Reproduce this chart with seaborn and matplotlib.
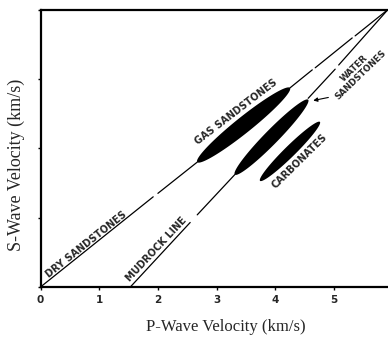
import numpy as np
import pandas as pd
import matplotlib
matplotlib.use("Agg")
import matplotlib.pyplot as plt
import seaborn as sns

# ---------------- data ----------------
vp_ticks = [0, 1, 2, 3, 4, 5]
vs_ticks = [0, 1, 2, 3, 4]
x_max, y_max = 5.92, 4.0

# dry sandstone line segments (Vp start, Vs start, Vp end, Vs end)
dry_vp0 = [0.00, 2.00, 4.25, 4.68, 5.36]
dry_vs0 = [0.00, 1.35, 2.87, 3.16, 3.62]
dry_vp1 = [1.92, 2.67, 4.63, 5.31, 5.92]
dry_vs1 = [1.30, 1.80, 3.13, 3.59, 4.00]

# mudrock line segments
mud_vp0 = [1.53, 2.67, 4.56, 5.08]
mud_vs0 = [0.00, 1.04, 2.72, 3.20]
mud_vp1 = [2.55, 3.31, 5.02, 5.92]
mud_vs1 = [0.93, 1.62, 3.14, 4.00]

# lithology clouds (end points in Vp, Vs; minor axis in px)
cloud_names = ["gas", "water", "carb"]
cloud_vp0 = [2.67, 3.31, 3.74]
cloud_vs0 = [1.80, 1.62, 1.53]
cloud_vp1 = [4.25, 4.56, 4.76]
cloud_vs1 = [2.87, 2.70, 2.38]
cloud_width_px = [16, 14, 11]

labels = ["DRY SANDSTONES", "MUDROCK LINE", "GAS SANDSTONES", "CARBONATES", "WATER\nSANDSTONES"]
label_vp = [0.78, 1.98, 3.33, 4.42, 5.40]
label_vs = [0.61, 0.54, 2.53, 1.82, 3.10]
label_rot = [38.5, 47, 37.5, 44.5, 44]
label_size = [7, 7, 7, 7, 6.3]

# ---------------- figure ----------------
sns.set_style("ticks")
plt.rcParams["font.family"] = ["DejaVu Sans"]
fig = plt.figure(figsize=(3.88, 3.38), dpi=100)
ax = fig.add_axes([40.5 / 388, 1 - 287 / 338, 1 - 40.5 / 388, (287 - 9.5) / 338])
ax.set_xlim(0, x_max)
ax.set_ylim(0, y_max)

def segs(vp0, vs0, vp1, vs1):
    for a, b, c, d in zip(vp0, vs0, vp1, vs1):
        df = pd.DataFrame({"vp": [a, c], "vs": [b, d]})
        sns.lineplot(data=df, x="vp", y="vs", ax=ax, color="black", lw=0.9,
                     sort=False, legend=False)

segs(dry_vp0, dry_vs0, dry_vp1, dry_vs1)
segs(mud_vp0, mud_vs0, mud_vp1, mud_vs1)

# clouds as ellipses computed in display space
fig.canvas.draw()
T = ax.transData
for a, b, c, d, w in zip(cloud_vp0, cloud_vs0, cloud_vp1, cloud_vs1, cloud_width_px):
    p0 = T.transform((a, b)); p1 = T.transform((c, d))
    ctr = (p0 + p1) / 2
    vec = p1 - p0
    L = np.hypot(*vec) / 2
    u = vec / (2 * L)
    n = np.array([-u[1], u[0]])
    t = np.linspace(0, 2 * np.pi, 200)
    pts = ctr + np.outer(L * np.cos(t), u) + np.outer(w / 2 * np.sin(t), n)
    dpts = T.inverted().transform(pts)
    ax.fill(dpts[:, 0], dpts[:, 1], color="black", lw=0, zorder=3)

for txt, x, y, r, fs in zip(labels, label_vp, label_vs, label_rot, label_size):
    ax.text(x, y, txt, rotation=r, ha="center", va="center", fontsize=fs,
            fontweight="bold", rotation_mode="anchor", linespacing=0.95)

# arrow from water sandstones label
ax.annotate("", xy=(4.60, 2.68), xytext=(4.95, 2.74),
            arrowprops=dict(arrowstyle="-|>", color="black", lw=0.8,
                            mutation_scale=6))

# axes styling
ax.set_xticks(vp_ticks)
ax.set_xticklabels([str(v) for v in vp_ticks], fontsize=7.5, fontweight="bold")
ax.set_yticks(vs_ticks)
ax.set_yticklabels([])
ax.tick_params(axis="both", direction="out", length=2.5, width=1, color="black", pad=3)
for s in ["left", "bottom", "top"]:
    ax.spines[s].set_visible(True)
    ax.spines[s].set_linewidth(1.6)
    ax.spines[s].set_color("black")
ax.spines["right"].set_visible(False)

ax.set_xlabel("P-Wave Velocity (km/s)", fontsize=12, family="Liberation Serif")
ax.set_ylabel("S-Wave Velocity (km/s)", fontsize=13, family="Liberation Serif")
ax.xaxis.set_label_coords(0.534, -0.115)
ax.yaxis.set_label_coords(-0.045, 0.44)

fig.savefig("out.png", dpi=100)
